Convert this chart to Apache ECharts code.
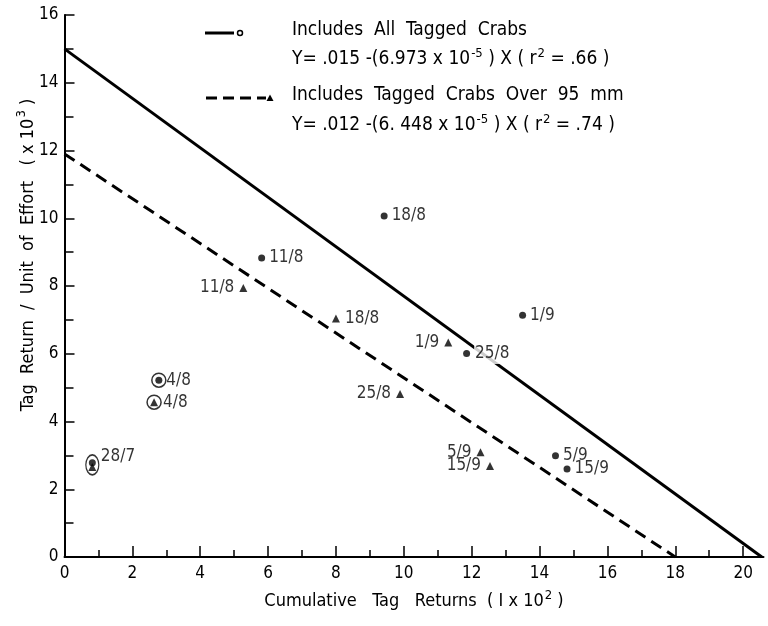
<!DOCTYPE html>
<html>
<head>
<meta charset="utf-8">
<script src="https://cdn.jsdelivr.net/npm/echarts@6/dist/echarts.min.js"></script>
<style>
  html, body { margin: 0; padding: 0; background: #fff; }
  #chart { width: 768px; height: 626px; }
</style>
</head>
<body>
<div id="chart"></div>
<script>
  // sampling dates (day/month)
  const dates = ['28/7', '4/8', '11/8', '18/8', '25/8', '1/9', '5/9', '15/9']
  // all tagged crabs (circles)
  const allX = [0.82, 2.78, 5.81, 9.42, 11.85, 13.5, 14.47, 14.81]
  const allY = [2.78, 5.22, 8.83, 10.07, 6.01, 7.14, 2.99, 2.60]
  // tagged crabs over 95 mm (triangles)
  const bigX = [0.82, 2.64, 5.27, 8.0, 9.89, 11.31, 12.26, 12.54]
  const bigY = [2.66, 4.57, 7.94, 7.04, 4.81, 6.33, 3.09, 2.69]
  // fitted lines, end points
  const allFitX = [0, 20.55]
  const allFitY = [15, 0]
  const bigFitX = [0, 18]
  const bigFitY = [11.9, 0]
  // circled early samples
  const ringX = [0.82, 2.78, 2.64]
  const ringY = [2.72, 5.22, 4.57]
  const xMajor = [0, 2, 4, 6, 8, 10, 12, 14, 16, 18, 20]
  const xMinor = [1, 3, 5, 7, 9, 11, 13, 15, 17, 19]

  const font = 'DejaVu Sans Condensed'
  const chart = echarts.init(document.getElementById('chart'))

  // which side the date sits on
  const bigSide = [null, 'right', 'left', 'right', 'left', 'left', 'left', 'left']

  const allData = allX.map((x, i) => {
    let label = { position: 'right' }
    if (i === 0) label = { position: 'right', offset: [1, -6] }
    // the fitted line is broken where this date is written
    if (i === 4) label = { position: 'right', backgroundColor: '#fff', padding: [2, 3, 2, 1] }
    return { value: [x, allY[i]], name: dates[i], label: label }
  })
  const bigData = bigX.map((x, i) => ({
    value: [x, bigY[i]],
    name: dates[i],
    label: bigSide[i] ? { position: bigSide[i] } : { show: false }
  }))

  const axisCommon = {
    type: 'value',
    splitLine: { show: false },
    axisLine: { lineStyle: { color: '#000', width: 2 } },
    axisLabel: { color: '#000', fontFamily: font, fontSize: 17 },
    nameTextStyle: { color: '#000', fontFamily: font, fontSize: 17 }
  }
  const supStyle = { fontSize: 13, padding: [0, 0, 12, 1], fontFamily: font, color: '#000' }

  chart.setOption({
    backgroundColor: '#fff',
    animation: false,
    textStyle: { fontFamily: font, color: '#000' },
    grid: { left: 64.5, right: 4.5, top: 15, bottom: 69 },
    xAxis: [
      Object.assign({}, axisCommon, {
        min: 0, max: 20.6,
        axisTick: { inside: true, length: 11, customValues: xMajor, lineStyle: { color: '#000', width: 1.5 } },
        axisLabel: Object.assign({}, axisCommon.axisLabel, { customValues: xMajor, margin: 8 }),
        name: 'Cumulative   Tag   Returns  ( I x 10{s|2} )',
        nameLocation: 'middle',
        nameGap: 32,
        nameMoveOverlap: false,
        nameTextStyle: {
          color: '#000', fontFamily: font, fontSize: 18,
          rich: { s: supStyle }
        }
      }),
      {
        type: 'value', min: 0, max: 20.6, position: 'bottom',
        splitLine: { show: false },
        axisLine: { show: false },
        axisLabel: { show: false },
        axisTick: { inside: true, length: 7, customValues: xMinor, lineStyle: { color: '#000', width: 1.5 } }
      }
    ],
    yAxis: Object.assign({}, axisCommon, {
      min: 0, max: 16, interval: 2,
      axisTick: { inside: true, length: 10, lineStyle: { color: '#000', width: 1.5 } },
      minorTick: { show: true, splitNumber: 2, length: 9, lineStyle: { color: '#000', width: 1.5 } },
      axisLabel: Object.assign({}, axisCommon.axisLabel, { margin: 6 }),
      name: 'Tag  Return  /  Unit  of  Effort   ( x 10{s|3} )',
      nameLocation: 'middle',
      nameGap: 24,
      nameMoveOverlap: false,
      nameRotate: 90,
      nameTextStyle: {
        color: '#000', fontFamily: font, fontSize: 18, padding: [0, 0, 0, 62],
        rich: { s: supStyle }
      }
    }),
    series: [
      {
        name: 'Includes All Tagged Crabs',
        type: 'line',
        data: allFitX.map((x, i) => [x, allFitY[i]]),
        symbol: 'none',
        lineStyle: { color: '#000', width: 3 },
        z: 2
      },
      {
        name: 'Includes Tagged Crabs Over 95 mm',
        type: 'line',
        data: bigFitX.map((x, i) => [x, bigFitY[i]]),
        symbol: 'none',
        lineStyle: { color: '#000', width: 3, type: [12, 7] },
        z: 2
      },
      {
        name: 'All crabs points',
        type: 'scatter',
        data: allData,
        symbol: 'circle',
        symbolSize: 7,
        itemStyle: { color: '#000' },
        label: {
          show: true, formatter: '{b}', distance: 4,
          color: '#000', fontFamily: font, fontSize: 17
        },
        z: 4
      },
      {
        name: 'Big crabs points',
        type: 'scatter',
        data: bigData,
        symbol: 'triangle',
        symbolSize: 8,
        itemStyle: { color: '#000' },
        label: {
          show: true, formatter: '{b}', distance: 5,
          color: '#000', fontFamily: font, fontSize: 17
        },
        z: 4
      },
      {
        name: 'rings',
        type: 'scatter',
        data: ringX.map((x, i) => ({ value: [x, ringY[i]], symbolSize: i === 0 ? [13, 20] : 14 })),
        symbol: 'circle',
        itemStyle: { color: 'transparent', borderColor: '#000', borderWidth: 1.5 },
        silent: true,
        z: 3
      }
    ],
    graphic: [
      { type: 'line', shape: { x1: 205, y1: 33, x2: 234, y2: 33 }, style: { stroke: '#000', lineWidth: 3 } },
      { type: 'circle', shape: { cx: 240, cy: 33, r: 2.5 }, style: { stroke: '#000', fill: '#fff', lineWidth: 1.5 } },
      { type: 'text', left: 292, top: 21, style: { text: 'Includes  All  Tagged  Crabs', font: '19px "' + font + '"', fill: '#000' } },
      {
        type: 'text', left: 292, top: 47,
        style: {
          text: 'Y= .015 -(6.973 x 10{s|-5} ) X ( r{s|2} = .66 )',
          font: '19px "' + font + '"', fill: '#000',
          rich: { s: { fontSize: 13, padding: [0, 0, 12, 1], fontFamily: font, fill: '#000' } }
        }
      },
      { type: 'line', shape: { x1: 206, y1: 98, x2: 266, y2: 98 }, style: { stroke: '#000', lineWidth: 3, lineDash: [11, 6] } },
      { type: 'polygon', shape: { points: [[270, 94.5], [266.5, 101], [273.5, 101]] }, style: { fill: '#000' } },
      { type: 'text', left: 292, top: 86, style: { text: 'Includes  Tagged  Crabs  Over  95  mm', font: '19px "' + font + '"', fill: '#000' } },
      {
        type: 'text', left: 292, top: 113,
        style: {
          text: 'Y= .012 -(6. 448 x 10{s|-5} ) X ( r{s|2} = .74 )',
          font: '19px "' + font + '"', fill: '#000',
          rich: { s: { fontSize: 13, padding: [0, 0, 12, 1], fontFamily: font, fill: '#000' } }
        }
      }
    ]
  })
</script>
</body>
</html>
